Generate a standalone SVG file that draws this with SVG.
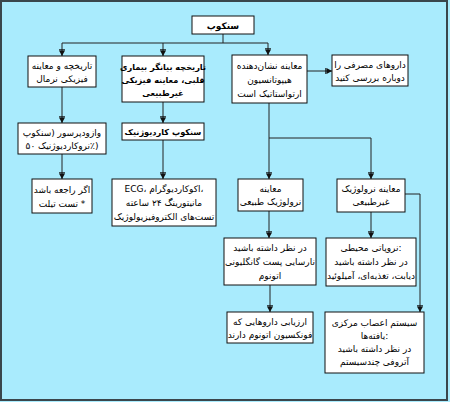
<svg xmlns="http://www.w3.org/2000/svg" width="450" height="402" viewBox="0 0 450 402">
<style>
.bg{fill:#a9ebfd}
.frame{fill:none;stroke:#3a464c;stroke-width:2}
.box{fill:#fff;stroke:#111;stroke-width:1}
.t{font-family:"DejaVu Sans",sans-serif;font-size:9px;fill:#000;text-anchor:middle}
.b{font-weight:bold;font-size:8.2px}
.ln{fill:none;stroke:#222;stroke-width:1}
</style>
<defs>
<marker id="ah" viewBox="0 0 7 7" refX="7" refY="3.5" markerWidth="7" markerHeight="7" markerUnits="userSpaceOnUse" orient="auto">
<path d="M1.5,0.5 L7,3.5 L1.5,6.5 z" fill="#111"/>
<path d="M0.8,0.5 V6.5" stroke="#111" stroke-width="1"/>
</marker>
</defs>
<rect class="bg" x="0" y="0" width="450" height="402"/>
<rect class="frame" x="1" y="1" width="446" height="399"/>

<g id="connectors">
<path class="ln" d="M223,34 V43 M62,43 H268"/>
<path class="ln" d="M62,43 V56" marker-end="url(#ah)"/>
<path class="ln" d="M163,43 V56" marker-end="url(#ah)"/>
<path class="ln" d="M268,43 V55" marker-end="url(#ah)"/>
<path class="ln" d="M307,71 H332" marker-end="url(#ah)"/>
<path class="ln" d="M62,87 V123" marker-end="url(#ah)"/>
<path class="ln" d="M163,102 V123" marker-end="url(#ah)"/>
<path class="ln" d="M62,154 V179" marker-end="url(#ah)"/>
<path class="ln" d="M163,140 V179" marker-end="url(#ah)"/>
<path class="ln" d="M269,103 V138 H371"/>
<path class="ln" d="M269,138 V179" marker-end="url(#ah)"/>
<path class="ln" d="M371,138 V179" marker-end="url(#ah)"/>
<path class="ln" d="M269,211 V238" marker-end="url(#ah)"/>
<path class="ln" d="M371,212 V238" marker-end="url(#ah)"/>
<path class="ln" d="M405,194 H420 V312" marker-end="url(#ah)"/>
<path class="ln" d="M270,285 V312" marker-end="url(#ah)"/>
</g>

<g id="n-syncope">
<rect class="box" x="192" y="16" width="62" height="18"/>
<text class="t b" x="223" y="28.5" style="font-size:9px">سنکوپ</text>
</g>

<g id="n-normal">
<rect class="box" x="28" y="56" width="68" height="31"/>
<text class="t" x="62" y="69">تاریخچه و معاینه</text>
<text class="t" x="62" y="82">فیزیکی نرمال</text>
</g>

<g id="n-cardiac-history">
<rect class="box" x="122" y="56" width="82" height="46"/>
<text class="t b" x="163" y="70">تاریخچه بیانگر بیماری</text>
<text class="t b" x="163" y="83">قلبی، معاینه فیزیکی</text>
<text class="t b" x="163" y="96">غیرطبیعی</text>
</g>

<g id="n-orthostatic">
<rect class="box" x="232" y="55" width="75" height="48"/>
<text class="t" x="269.5" y="69">معاینه نشان‌دهنده</text>
<text class="t" x="269.5" y="83">هیپوتانسیون</text>
<text class="t" x="269.5" y="97">ارتواستاتیک است</text>
</g>

<g id="n-drugs">
<rect class="box" x="332" y="55" width="76" height="31"/>
<text class="t" x="370" y="68">داروهای مصرفی را</text>
<text class="t" x="370" y="81">دوباره بررسی کنید</text>
</g>

<g id="n-vasodepressor">
<rect class="box" x="18" y="123" width="88" height="31"/>
<text class="t" x="62" y="136">وازودپرسور (سنکوپ</text>
<text class="t" x="62" y="149">نروکاردیوژنیک ۵۰٪)</text>
</g>

<g id="n-cardiogenic">
<rect class="box" x="122" y="123" width="82" height="17"/>
<text class="t b" x="163" y="135">سنکوپ کاردیوژنیک</text>
</g>

<g id="n-tilt">
<rect class="box" x="32" y="179" width="60" height="34"/>
<text class="t" x="62" y="193">اگر راجعه باشد</text>
<text class="t" x="62" y="207">تست تیلت *</text>
</g>

<g id="n-tests">
<rect class="box" x="112" y="179" width="104" height="47"/>
<text class="t" x="164" y="192">ECG، اکوکاردیوگرام،</text>
<text class="t" x="164" y="206">مانیتورینگ ۲۴ ساعته</text>
<text class="t" x="164" y="220">تست‌های الکتروفیزیولوژیک</text>
</g>

<g id="n-neuro-normal">
<rect class="box" x="238" y="179" width="65" height="32"/>
<text class="t" x="270.5" y="192">معاینه</text>
<text class="t" x="270.5" y="205">نرولوژیک طبیعی</text>
</g>

<g id="n-neuro-abnormal">
<rect class="box" x="337" y="179" width="68" height="33"/>
<text class="t" x="371" y="192">معاینه نرولوژیک</text>
<text class="t" x="371" y="205">غیرطبیعی</text>
</g>

<g id="n-autonomic">
<rect class="box" x="224" y="238" width="92" height="47"/>
<text class="t" x="270" y="251">در نظر داشته باشید</text>
<text class="t" x="270" y="265">نارسایی پست گانگلیونی</text>
<text class="t" x="270" y="279">اتونوم</text>
</g>

<g id="n-neuropathy">
<rect class="box" x="326" y="238" width="90" height="48"/>
<text class="t" x="371" y="251">نروپاتی محیطی:</text>
<text class="t" x="371" y="265">در نظر داشته باشید</text>
<text class="t" x="371" y="279">دیابت، تغذیه‌ای، آمیلوئید</text>
</g>

<g id="n-drug-eval">
<rect class="box" x="227" y="312" width="86" height="31"/>
<text class="t" x="270" y="325">ارزیابی داروهایی که</text>
<text class="t" x="270" y="338">فونکسیون اتونوم دارند</text>
</g>

<g id="n-cns">
<rect class="box" x="325" y="312" width="99" height="61"/>
<text class="t" x="374.5" y="326">سیستم اعصاب مرکزی</text>
<text class="t" x="374.5" y="339">یافته‌ها:</text>
<text class="t" x="374.5" y="352">در نظر داشته باشید</text>
<text class="t" x="374.5" y="365">آتروفی چندسیستم</text>
</g>
</svg>
